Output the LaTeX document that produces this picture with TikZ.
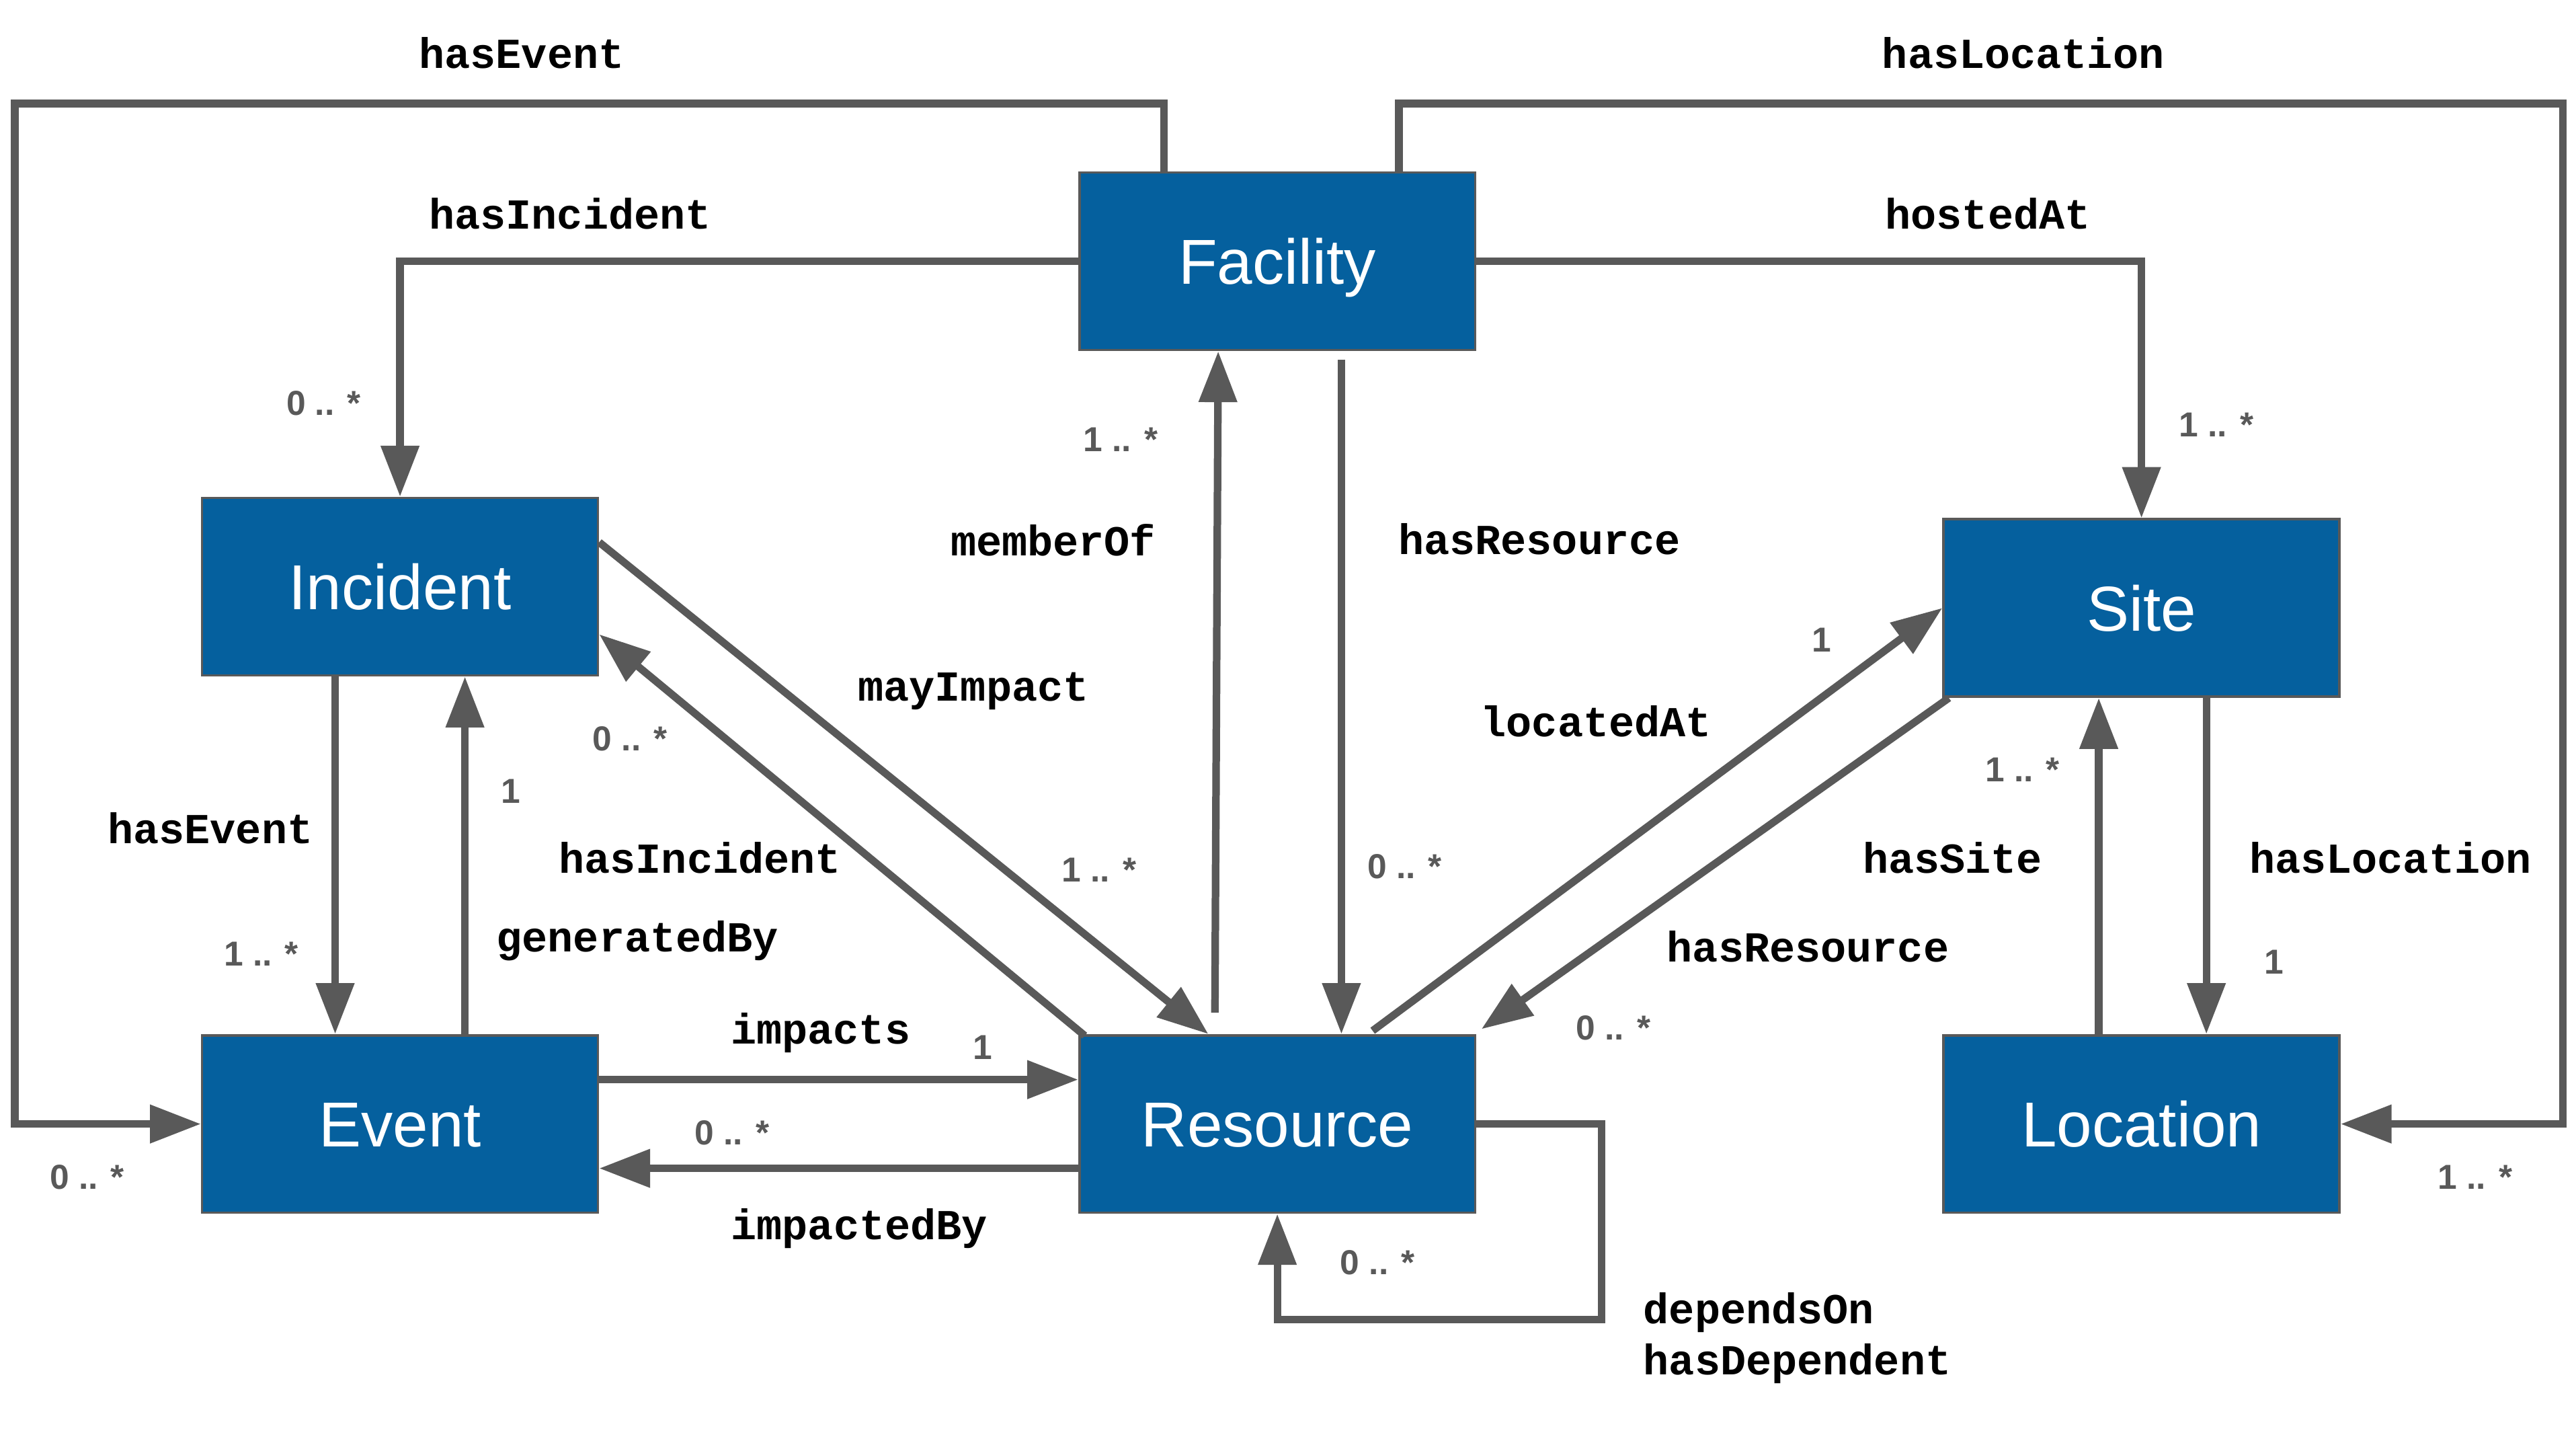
\documentclass[tikz,border=0pt]{standalone}
\usepackage{fontspec}
\setmainfont{Liberation Sans}
\newfontfamily\monof{Liberation Mono}
\usetikzlibrary{arrows.meta,calc}
\definecolor{boxblue}{HTML}{05609E}
\definecolor{linegray}{HTML}{595959}
\tikzset{
  cls/.style={draw=linegray, line width=0.03cm, fill=boxblue, text=white,
    minimum width=4.82cm, minimum height=2.16cm, inner sep=0pt,
    text height=15.8pt, text depth=0pt,
    font=\fontsize{22}{26}\selectfont},
  conn/.style={draw=linegray, line width=0.092cm,
    -{Triangle[length=0.62cm,width=0.45cm]}},
  rel/.style={font=\monof\bfseries\fontsize{14.8}{17}\selectfont, inner sep=0pt,
    text height=6.2pt, text depth=1.2pt, yshift=-0.08cm},
  mult/.style={font=\bfseries\fontsize{12}{14}\selectfont, text=linegray, inner sep=0pt,
    text height=7pt, text depth=0pt, yshift=-0.03cm}
}
\begin{document}
\begin{tikzpicture}[x=0.02cm,y=-0.02cm]
\useasboundingbox (0,0) rectangle (1568,881.4);
% classes
\node[cls] (fac)  at (777.5,159) {Facility};
\node[cls] (inc)  at (243.5,357) {Incident};
\node[cls] (site) at (1303.5,370) {Site};
\node[cls] (ev)   at (243.5,684) {Event};
\node[cls] (res)  at (777.5,684) {Resource};
\node[cls] (loc)  at (1303.5,684) {Location};
% bend coordinates
\coordinate (tlc) at (9,63);
\coordinate (trc) at (1560,63);
\coordinate (lpc) at (975,803);
% connectors
\draw[conn] ($(fac.north)+(-69,0)$) |- (tlc) |- (ev.west);
\draw[conn] ($(fac.north)+(74,0)$) |- (trc) |- (loc.east);
\draw[conn] (fac.west) -| (inc.north);
\draw[conn] (fac.east) -| (site.north);
\draw[conn] ($(res.north)+(-38,-13)$) -- ($(fac.south)+(-36,0)$);
\draw[conn] ($(fac.south)+(39,5)$) -- ($(res.north)+(39,0)$);
\draw[conn] ($(inc.east)+(0,-27)$) -- ($(res.north)+(-42,0)$);
\draw[conn] ($(res.north west)+(4,1)$) -- ($(inc.east)+(0,29)$);
\draw[conn] ($(inc.south)+(-39.5,0)$) -- ($(ev.north)+(-39.5,0)$);
\draw[conn] ($(ev.north)+(39.5,0)$) -- ($(inc.south)+(39.5,0)$);
\draw[conn] ($(ev.east)+(0,-27)$) -- ($(res.west)+(0,-27)$);
\draw[conn] ($(res.west)+(0,27)$) -- ($(ev.east)+(0,27)$);
\draw[conn] (res.east) -| (lpc) -| (res.south);
\draw[conn] ($(res.north)+(58,-2)$) -- (site.west);
\draw[conn] ($(site.south west)+(4,0)$) -- ($(res.north east)+(3,-3)$);
\draw[conn] ($(loc.north)+(-26,0)$) -- ($(site.south)+(-26,0)$);
\draw[conn] ($(site.south)+(39.5,0)$) -- ($(loc.north)+(39.5,0)$);
% relation labels
\node[rel] (l1)  at (317.5,33) {hasEvent};
\node[rel] (l2)  at (1231.5,33) {hasLocation};
\node[rel] (l3)  at (347,131) {hasIncident};
\node[rel] (l4)  at (1210,131) {hostedAt};
\node[rel] (l5)  at (641,330) {memberOf};
\node[rel] (l6)  at (937,329) {hasResource};
\node[rel] (l7)  at (592.5,418) {mayImpact};
\node[rel] (l8)  at (971.5,440) {locatedAt};
\node[rel] (l9)  at (128,505) {hasEvent};
\node[rel] (l10) at (426,523) {hasIncident};
\node[rel] (l11) at (1188.5,523) {hasSite};
\node[rel] (l12) at (1455,523) {hasLocation};
\node[rel] (l13) at (388,571) {generatedBy};
\node[rel] (l14) at (1100.5,577) {hasResource};
\node[rel] (l15) at (499.5,627) {impacts};
\node[rel] (l16) at (523,746) {impactedBy};
\node[rel,anchor=west] (l17) at (1000,797) {dependsOn};
\node[rel,anchor=west] (l18) at (1000,828) {hasDependent};
% multiplicities
\node[mult] (m1)  at (197,245) {0 .. *};
\node[mult] (m2)  at (1349,258) {1 .. *};
\node[mult] (m3)  at (682,267) {1 .. *};
\node[mult] (m4)  at (1109,389) {1};
\node[mult] (m5)  at (383.5,449) {0 .. *};
\node[mult] (m6)  at (1231,468) {1 .. *};
\node[mult] (m7)  at (311,481) {1};
\node[mult] (m8)  at (669,529) {1 .. *};
\node[mult] (m9)  at (855,527) {0 .. *};
\node[mult] (m10) at (159,580) {1 .. *};
\node[mult] (m11) at (1384,585) {1};
\node[mult] (m12) at (598,637) {1};
\node[mult] (m13) at (982,625) {0 .. *};
\node[mult] (m14) at (445.5,689) {0 .. *};
\node[mult] (m15) at (53,716) {0 .. *};
\node[mult] (m16) at (1506.5,716) {1 .. *};
\node[mult] (m17) at (838.5,768) {0 .. *};
\end{tikzpicture}
\end{document}
